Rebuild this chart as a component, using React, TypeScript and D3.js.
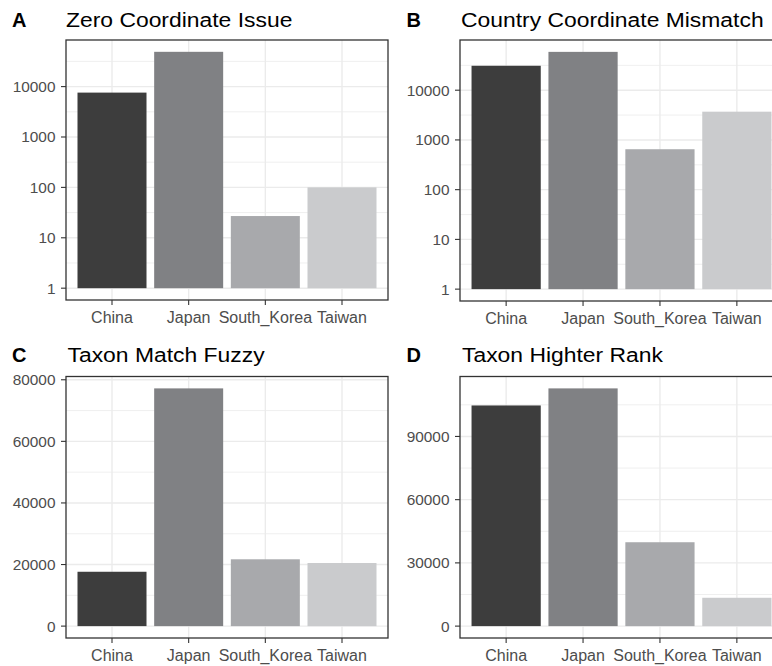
import React from "react";
import * as d3 from "d3";

const countries = ["China", "Japan", "South_Korea", "Taiwan"];
const barColors = ["#3d3d3d", "#808184", "#a8a9ac", "#cacbcd"];

const zeroCoordinate = [7600, 49000, 27, 100];
const countryMismatch = [31000, 59000, 650, 3700];
const taxonFuzzy = [17650, 77200, 21700, 20500];
const taxonHigher = [104700, 112800, 39800, 13450];

const logTicks = [1, 10, 100, 1000, 10000];
const fuzzyTicks = [0, 20000, 40000, 60000, 80000];
const higherTicks = [0, 30000, 60000, 90000];

const panelLabels = ["A", "B", "C", "D"];
const panelTitles = [
  "Zero Coordinate Issue",
  "Country Coordinate Mismatch",
  "Taxon Match Fuzzy",
  "Taxon Highter Rank",
];

const FONT = "'Liberation Sans', Arial, Helvetica, sans-serif";

type PanelProps = {
  x0: number;
  x1: number;
  y0: number;
  y1: number;
  values: number[];
  log: boolean;
  ticks: number[];
  label: string;
  title: string;
  labelX: number;
  titleX: number;
  titleY: number;
};

function Panel(p: PanelProps) {
  const { x0, x1, y0, y1, values, log, ticks } = p;
  const x = d3
    .scaleBand<string>()
    .domain(countries)
    .range([x0, x1])
    .paddingInner(0.1)
    .paddingOuter(0.15);

  let y: (v: number) => number;
  let base: number;
  let minor: number[] = [];
  if (log) {
    const maxL = Math.log10(d3.max(values) as number);
    const ext = maxL * 0.05;
    const s = d3.scaleLinear().domain([-ext, maxL + ext]).range([y1, y0]);
    y = (v: number) => s(Math.log10(v));
    base = 1;
    for (let k = -1; k <= 6; k++) {
      const lv = k + 0.5;
      if (lv > -ext && lv < maxL + ext) minor.push(Math.pow(10, lv));
    }
  } else {
    const mx = d3.max(values) as number;
    const ext = mx * 0.05;
    const s = d3.scaleLinear().domain([-ext, mx + ext]).range([y1, y0]);
    y = (v: number) => s(v);
    base = 0;
    const step = ticks[1] - ticks[0];
    for (let v = step / 2; v < mx + ext; v += step) minor.push(v);
  }
  const clipId = `clip-${p.label}`;
  return (
    <g>
      <defs>
        <clipPath id={clipId}>
          <rect x={x0} y={y0} width={x1 - x0} height={y1 - y0} />
        </clipPath>
      </defs>
      <rect x={x0} y={y0} width={x1 - x0} height={y1 - y0} fill="#ffffff" />
      <g clipPath={`url(#${clipId})`}>
        {minor.map((v, i) => (
          <line key={"mi" + i} x1={x0} x2={x1} y1={y(v)} y2={y(v)} stroke="#ebebeb" strokeWidth={0.8} />
        ))}
        {ticks.map((v, i) => (
          <line key={"ma" + i} x1={x0} x2={x1} y1={y(v)} y2={y(v)} stroke="#ebebeb" strokeWidth={1.4} />
        ))}
        {countries.map((c, i) => {
          const cx = (x(c) as number) + x.bandwidth() / 2;
          return <line key={"vg" + i} x1={cx} x2={cx} y1={y0} y2={y1} stroke="#ebebeb" strokeWidth={1.4} />;
        })}
        {countries.map((c, i) => (
          <rect
            key={"b" + i}
            x={x(c)}
            width={x.bandwidth()}
            y={y(values[i])}
            height={y(base) - y(values[i])}
            fill={barColors[i]}
          />
        ))}
      </g>
      <rect x={x0} y={y0} width={x1 - x0} height={y1 - y0} fill="none" stroke="#333333" strokeWidth={1.3} />
      {ticks.map((v, i) => (
        <g key={"yt" + i}>
          <line x1={x0 - 5} x2={x0} y1={y(v)} y2={y(v)} stroke="#333333" strokeWidth={1.1} />
          <text
            x={x0 - 10.5}
            y={y(v) + 5.4}
            textAnchor="end"
            fontSize={15.4}
            fill="#4d4d4d"
            fontFamily={FONT}
          >
            {String(v)}
          </text>
        </g>
      ))}
      {countries.map((c, i) => {
        const cx = (x(c) as number) + x.bandwidth() / 2;
        return (
          <g key={"xt" + i}>
            <line x1={cx} x2={cx} y1={y1} y2={y1 + 5} stroke="#333333" strokeWidth={1.1} />
            <text x={cx} y={y1 + 22.5} textAnchor="middle" fontSize={16} fill="#4d4d4d" fontFamily={FONT}>
              {c}
            </text>
          </g>
        );
      })}
      <text x={p.labelX} y={p.titleY} fontSize={20} fontWeight="bold" fill="#000" fontFamily={FONT}>
        {p.label}
      </text>
      <text
        transform={`translate(${p.titleX},${p.titleY}) scale(1.09,1)`}
        fontSize={21}
        fill="#000"
        fontFamily={FONT}
      >
        {p.title}
      </text>
    </g>
  );
}

export default function App() {
  return (
    <div style={{ position: "absolute", left: 0, top: 0 }}>
      <svg width={772} height={666} style={{ display: "block", background: "#ffffff" }}>
        <Panel x0={66} x1={388} y0={40} y1={300} values={zeroCoordinate} log={true} ticks={logTicks}
          label={panelLabels[0]} title={panelTitles[0]} labelX={12} titleX={66} titleY={26.5} />
        <Panel x0={460} x1={783} y0={40} y1={301} values={countryMismatch} log={true} ticks={logTicks}
          label={panelLabels[1]} title={panelTitles[1]} labelX={406.5} titleX={461} titleY={26.5} />
        <Panel x0={66} x1={388} y0={376.5} y1={638} values={taxonFuzzy} log={false} ticks={fuzzyTicks}
          label={panelLabels[2]} title={panelTitles[2]} labelX={12} titleX={67.5} titleY={361.5} />
        <Panel x0={460} x1={783} y0={376.5} y1={638} values={taxonHigher} log={false} ticks={higherTicks}
          label={panelLabels[3]} title={panelTitles[3]} labelX={406.5} titleX={462} titleY={361.5} />
      </svg>
    </div>
  );
}
